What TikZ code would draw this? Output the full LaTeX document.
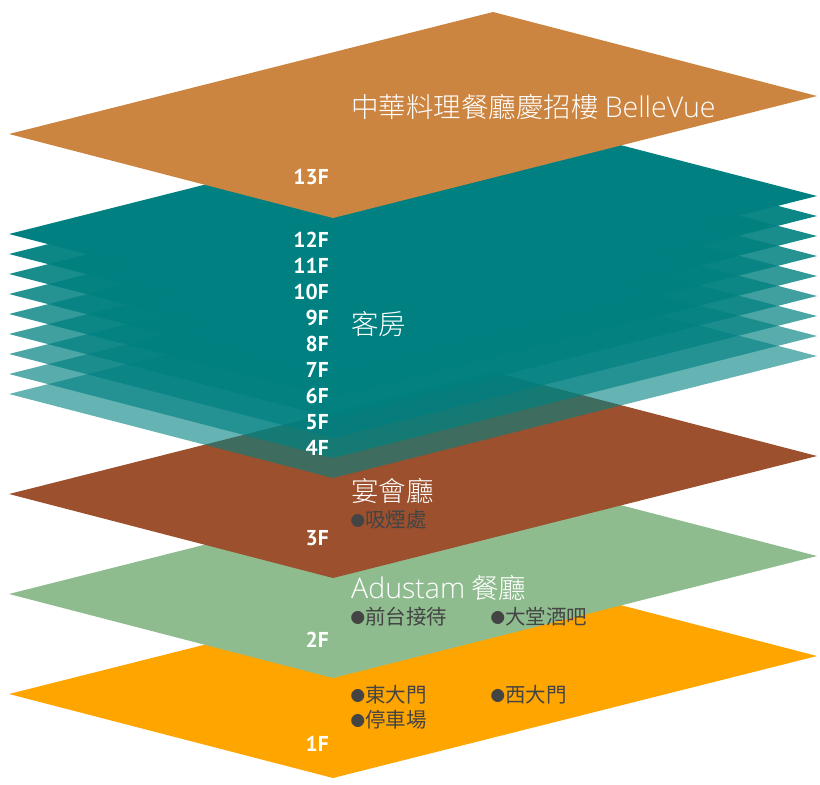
\documentclass[tikz,border=0pt]{standalone}
\usepackage{fontspec}
\setmainfont{Noto Sans CJK TC}
\newfontfamily\cjk{Noto Sans CJK TC}
\newfontfamily\cjklight{Noto Sans CJK TC Light}
\newfontfamily\lat{PT Sans}
\newfontfamily\latlight{Open Sans Light}
\definecolor{c13}{HTML}{CC8540}
\definecolor{teal1}{HTML}{008080}
\definecolor{c3}{HTML}{9C502D}
\definecolor{c2}{HTML}{8FBC8F}
\definecolor{c1}{HTML}{FFA500}
\definecolor{dk}{HTML}{444444}
\newcommand{\bul}{\raisebox{1pt}{\fontsize{14.5}{14.5}\selectfont ●}}
\newcommand{\latin}[1]{{\latlight\fontsize{28.5}{28.5}\selectfont #1}}
\tikzset{
  floorlabel/.style={anchor=base east,inner sep=0pt,text=white,font=\lat\bfseries\fontsize{21.5}{21.5}\selectfont},
  headline/.style={anchor=base west,inner sep=0pt,text=white,font=\cjklight\fontsize{27.5}{27.5}\selectfont},
  item/.style={anchor=base west,inner sep=0pt,text=dk,font=\cjk\fontsize{20.5}{20.5}\selectfont},
}
\newcommand{\plate}[2]{\fill[#1] (9,#2) -- (493,#2-122) -- (817,#2-38) -- (333,#2+84) -- cycle;}
\begin{document}
\begin{tikzpicture}[x=1pt,y=-1pt]
\useasboundingbox (0,0) rectangle (820,785);
\plate{c1}{694}
\plate{c2}{594}
\plate{c3}{494}
\plate{teal1,opacity=.6}{394}
\plate{teal1,opacity=.65}{374}
\plate{teal1,opacity=.7}{354}
\plate{teal1,opacity=.75}{334}
\plate{teal1,opacity=.8}{314}
\plate{teal1,opacity=.85}{294}
\plate{teal1,opacity=.9}{274}
\plate{teal1,opacity=.95}{254}
\plate{teal1}{234}
\plate{c13}{134}
\node[floorlabel] (f13) at (329,184) {13F};
\node[floorlabel] (f12) at (329,247) {12F};
\node[floorlabel] (f11) at (329,273) {11F};
\node[floorlabel] (f10) at (329,299) {10F};
\node[floorlabel] (f9) at (329,325) {9F};
\node[floorlabel] (f8) at (329,351) {8F};
\node[floorlabel] (f7) at (329,377) {7F};
\node[floorlabel] (f6) at (329,403) {6F};
\node[floorlabel] (f5) at (329,429) {5F};
\node[floorlabel] (f4) at (329,455) {4F};
\node[floorlabel] (f3) at (329,545) {3F};
\node[floorlabel] (f2) at (329,647) {2F};
\node[floorlabel] (f1) at (329,751) {1F};
\node[headline] (t13) at (351,117) {中華料理餐廳慶招樓 \latin{BelleVue}};
\node[headline] (t12) at (351,334) {客房};
\node[headline] (t3) at (351,501) {宴會廳};
\node[headline] (t2) at (351,598) {\latin{Adustam} 餐廳};
\node[item] (a1) at (350.5,527) {\bul 吸煙處};
\node[item] (a2) at (350.5,624) {\bul 前台接待};
\node[item] (a3) at (490.5,624) {\bul 大堂酒吧};
\node[item] (a4) at (350.5,702) {\bul 東大門};
\node[item] (a5) at (490.5,702) {\bul 西大門};
\node[item] (a6) at (350.5,727) {\bul 停車場};
\end{tikzpicture}
\end{document}
